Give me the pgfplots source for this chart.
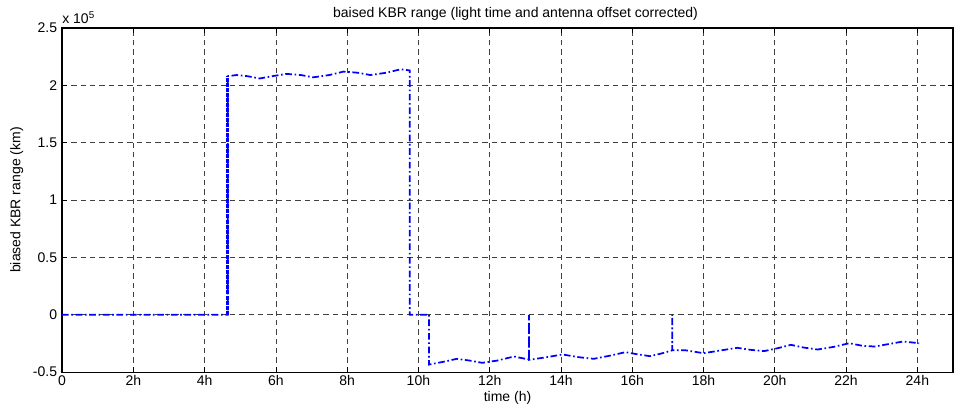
\documentclass[border=0pt]{standalone}
\usepackage{pgfplots}
\pgfplotsset{compat=1.18}
\usepackage{fontspec}
\setmainfont{Liberation Sans}

\begin{document}
\fontsize{10.5pt}{12pt}\selectfont
\begin{tikzpicture}
\begin{axis}[
    scale only axis,
    width=668pt, height=258pt,
    xmin=0, xmax=25,
    ymin=-0.5, ymax=2.5,
    xtick={0,2,...,24},
    xticklabels={0,2h,4h,6h,8h,10h,12h,14h,16h,18h,20h,22h,24h},
    ytick={-0.5,0,0.5,1,1.5,2,2.5},
    yticklabels={-0.5,0,0.5,1,1.5,2,2.5},
    tick align=inside,
    major tick length=4pt,
    tick style={black, line width=0.5pt},
    axis line style={line width=0.8pt},
    grid=major,
    major grid style={black!75, line width=0.5pt, dash pattern=on 4pt off 3pt},
    xlabel={time (h)},
    ylabel={biased KBR range (km)},
    xlabel style={yshift=3pt},
    ylabel style={yshift=0pt},
    title={baised KBR range (light time and antenna offset corrected)},
    title style={yshift=-4pt, xshift=6pt},
    xticklabel style={yshift=1pt},
    clip=false,
]
% values in units of 1e5 km
\addplot[blue, line width=1.3pt, dash pattern=on 5pt off 2pt on 1.2pt off 2pt] coordinates {
    (0,0) (1,0) (2,0) (3,0) (4,0) (4.65,0)
    (4.65,2.08) (4.9,2.09) (5.2,2.08) (5.55,2.06) (5.9,2.08) (6.3,2.10)
    (6.7,2.09) (7.05,2.07) (7.5,2.09) (7.9,2.12) (8.3,2.11) (8.65,2.09)
    (9.1,2.11) (9.5,2.14) (9.76,2.13)
    (9.76,0) (10.3,0)
    (10.3,-0.434) (10.7,-0.41) (11.08,-0.384) (11.45,-0.40) (11.79,-0.419)
    (12.2,-0.40) (12.68,-0.364) (13.1,-0.39) (13.1,0) (13.1,-0.393)
    (13.6,-0.37) (14.04,-0.346) (14.5,-0.37) (14.92,-0.384) (15.4,-0.355)
    (15.81,-0.326) (16.15,-0.345) (16.5,-0.361) (16.85,-0.335)
    (17.12,-0.31) (17.12,0) (17.12,-0.31)
    (17.5,-0.31) (18.0,-0.335) (18.5,-0.31) (18.95,-0.288) (19.3,-0.305)
    (19.7,-0.317) (20.1,-0.29) (20.45,-0.262) (20.8,-0.285) (21.2,-0.303)
    (21.65,-0.28) (22.09,-0.248) (22.45,-0.27) (22.8,-0.277) (23.2,-0.255)
    (23.6,-0.233) (24.05,-0.248)
};
% thick noisy jump at ~4.65 h
\addplot[blue, line width=2.2pt, dash pattern=on 3pt off 0.8pt] coordinates {(4.65,0) (4.65,2.08)};
\node[anchor=south west, inner sep=0pt] at ([yshift=3pt]rel axis cs:0,1) {x 10\textsuperscript{5}};
\end{axis}
\pgfresetboundingbox
\path[use as bounding box] ([shift={(-46.5pt,-30pt)}]current axis.south west) rectangle ([shift={(3pt,21pt)}]current axis.north east);
\end{tikzpicture}
\end{document}
